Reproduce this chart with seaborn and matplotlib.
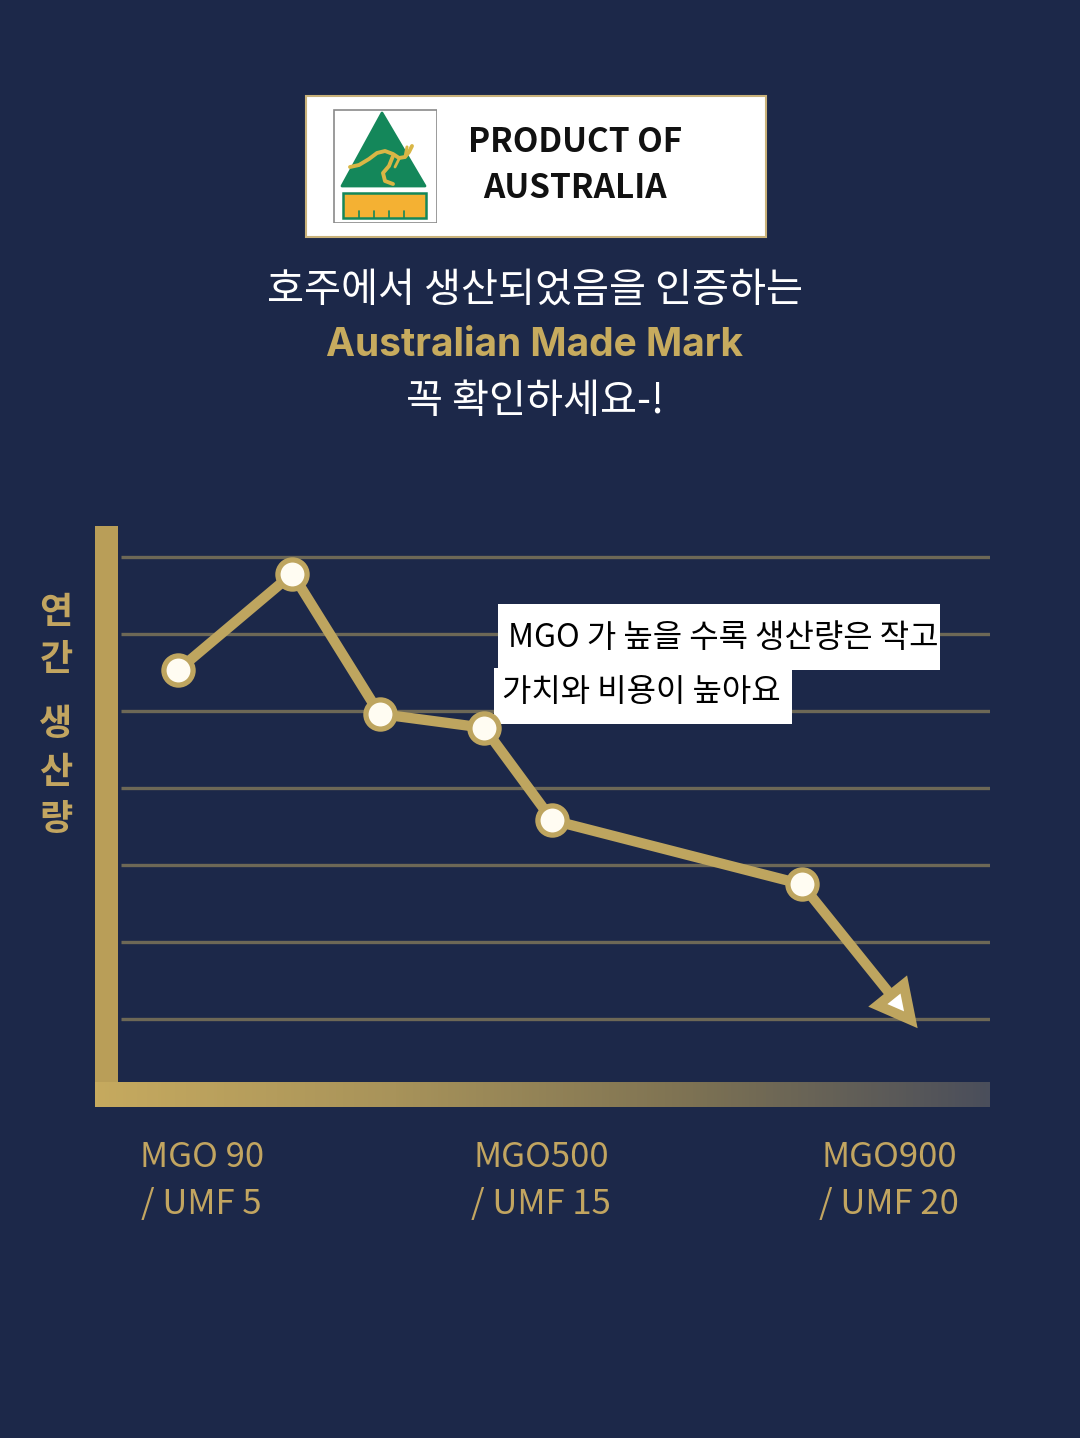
import matplotlib
matplotlib.use("Agg")
import matplotlib.pyplot as plt
import numpy as np
import seaborn as sns
from matplotlib.colors import LinearSegmentedColormap
from matplotlib.patches import Rectangle, Polygon

# data (x: relative position along the MGO axis, y: relative annual output)
x_pos = [6.9, 20.0, 30.0, 42.0, 49.8, 78.4]
y_val = [5.53, 6.78, 4.96, 4.78, 3.58, 2.75]
arrow_end = (91.7, 0.88)
tick_pos = [9.6, 48.5, 88.4]
tick_labels = ["MGO 90\n/ UMF 5", "MGO500\n/ UMF 15", "MGO900\n/ UMF 20"]
grid_levels = [1, 2, 3, 4, 5, 6, 7]
note_lines = ["MGO 가 높을 수록 생산량은 작고", "가치와 비용이 높아요"]
title_lines = ["호주에서 생산되었음을 인증하는", "Australian Made Mark", "꼭 확인하세요-!"]

BG = "#1c2849"
GOLD = "#bea55f"
W, H = 1080, 1438

sns.set_style("white")
plt.rcParams["font.family"] = ["Noto Sans CJK KR", "DejaVu Sans"]


def px_box(x0, y0, x1, y1):
    return [x0 / W, 1 - y1 / H, (x1 - x0) / W, (y1 - y0) / H]


fig = plt.figure(figsize=(W / 100, H / 100), dpi=100, facecolor=BG)

# ---- header badge ----
fig.patches.append(Rectangle((306 / W, 1 - 237 / H), 460 / W, 141 / H, transform=fig.transFigure,
                             facecolor="white", edgecolor="#c9b27a", lw=1.5, zorder=-1))
fig.text(575 / W, 1 - 142 / H, "PRODUCT OF", ha="center", va="center", fontsize=24,
         fontweight="bold", color="#111111")
fig.text(575 / W, 1 - 189 / H, "AUSTRALIA", ha="center", va="center", fontsize=24,
         fontweight="bold", color="#111111")

lg = fig.add_axes(px_box(333, 109, 437, 223))
lg.set_zorder(2)
lg.set_xlim(0, 104)
lg.set_ylim(114, 0)
lg.axis("off")
lg.add_patch(Rectangle((0.5, 0.5), 103, 113, facecolor="white", edgecolor="#8a8a8a", lw=1.2))
lg.add_patch(Polygon([(49, 4), (9, 77), (92, 77)], closed=True, facecolor="#14875a",
                     edgecolor="#14875a", joinstyle="round", lw=2))
lg.add_patch(Rectangle((10, 84), 83, 25, facecolor="#f4b133", edgecolor="#14875a", lw=1.8))
for tx in [26, 41, 56, 71]:
    lg.plot([tx, tx], [109, 102], color="#14875a", lw=1.2)
# kangaroo outline
kx = [17, 26, 36, 44, 52, 60, 66, 72, 76, 79]
ky = [58, 56, 50, 44, 42, 45, 49, 48, 43, 37]
lg.plot(kx, ky, color="#d9b645", lw=2.8, solid_capstyle="round", solid_joinstyle="round")
lg.plot([72, 74], [48, 38], color="#d9b645", lw=2.2, solid_capstyle="round")
lg.plot([60, 56, 50, 52, 60], [47, 57, 64, 72, 75], color="#d9b645", lw=2.8,
        solid_capstyle="round", solid_joinstyle="round")
lg.plot([66, 62], [50, 58], color="#d9b645", lw=2.0, solid_capstyle="round")

# ---- titles ----
fig.text(535 / W, 1 - 290 / H, title_lines[0], ha="center", va="center", fontsize=29, color="white")
fig.text(535 / W, 1 - 346 / H, title_lines[1], ha="center", va="center", fontsize=28,
         fontweight="bold", color="#c7ab5e", family=["Inter", "DejaVu Sans"])
fig.text(535 / W, 1 - 402 / H, title_lines[2], ha="center", va="center", fontsize=29, color="white")

# ---- chart ----
ax = fig.add_axes(px_box(95, 526, 990, 1107))
ax.set_facecolor("none")
x0, x1, y0, y1 = -2.64, 100, -0.143, 7.40

ax.hlines(grid_levels, 0.3, 100, color="#6d6856", lw=2.4, zorder=1)
ax.axvspan(x0, 0, color="#b99e58", lw=0, zorder=2)
grad = LinearSegmentedColormap.from_list("g", ["#c6aa5f", "#a8935a", "#7d7253", "#4a4e5b"])
ax.imshow(np.linspace(0, 1, 256)[None, :], cmap=grad, aspect="auto",
          extent=(x0, 100, y0, 0.17), zorder=2)

ax.annotate("", xy=arrow_end, xytext=(x_pos[-1], y_val[-1]),
            arrowprops=dict(arrowstyle="-|>,head_length=1.15,head_width=0.6", lw=7.2,
                            ec=GOLD, fc="white", shrinkA=0, shrinkB=0, mutation_scale=20,
                            joinstyle="miter", capstyle="butt"), zorder=3)
sns.lineplot(x=x_pos, y=y_val, ax=ax, color=GOLD, lw=7.4, marker="o", markersize=21,
             markerfacecolor="#fffcf2", markeredgecolor=GOLD, markeredgewidth=3.8, zorder=5)

ax.set_xlim(x0, x1)
ax.set_ylim(y0, y1)
ax.set_yticks([])
ax.set_xticks(tick_pos, tick_labels)
ax.tick_params(axis="x", length=0, pad=24, labelsize=25, labelcolor="#c2a560")
for lab in ax.get_xticklabels():
    lab.set_linespacing(1.45)
    lab.set_fontweight("medium")
for s in ax.spines.values():
    s.set_visible(False)

# note boxes
ax.add_patch(Rectangle((498 / W, 1 - 670 / H), 442 / W, 66 / H, transform=fig.transFigure,
                       facecolor="white", lw=0, zorder=4, clip_on=False))
ax.add_patch(Rectangle((494 / W, 1 - 724 / H), 298 / W, 56 / H, transform=fig.transFigure,
                       facecolor="white", lw=0, zorder=4, clip_on=False))
ax.text(508 / W, 1 - 638 / H, note_lines[0], transform=fig.transFigure, ha="left", va="center",
        fontsize=23, color="black", zorder=6)
ax.text(502 / W, 1 - 692 / H, note_lines[1], transform=fig.transFigure, ha="left", va="center",
        fontsize=23, color="black", zorder=6)

# vertical y label
fig.text(56 / W, 1 - 636 / H, "연\n간", ha="center", va="center", fontsize=26,
         fontweight="bold", color="#c2a560", linespacing=1.35)
fig.text(56 / W, 1 - 772 / H, "생\n산\n량", ha="center", va="center", fontsize=26,
         fontweight="bold", color="#c2a560", linespacing=1.35)

fig.savefig("out.png", dpi=100, facecolor=BG)
